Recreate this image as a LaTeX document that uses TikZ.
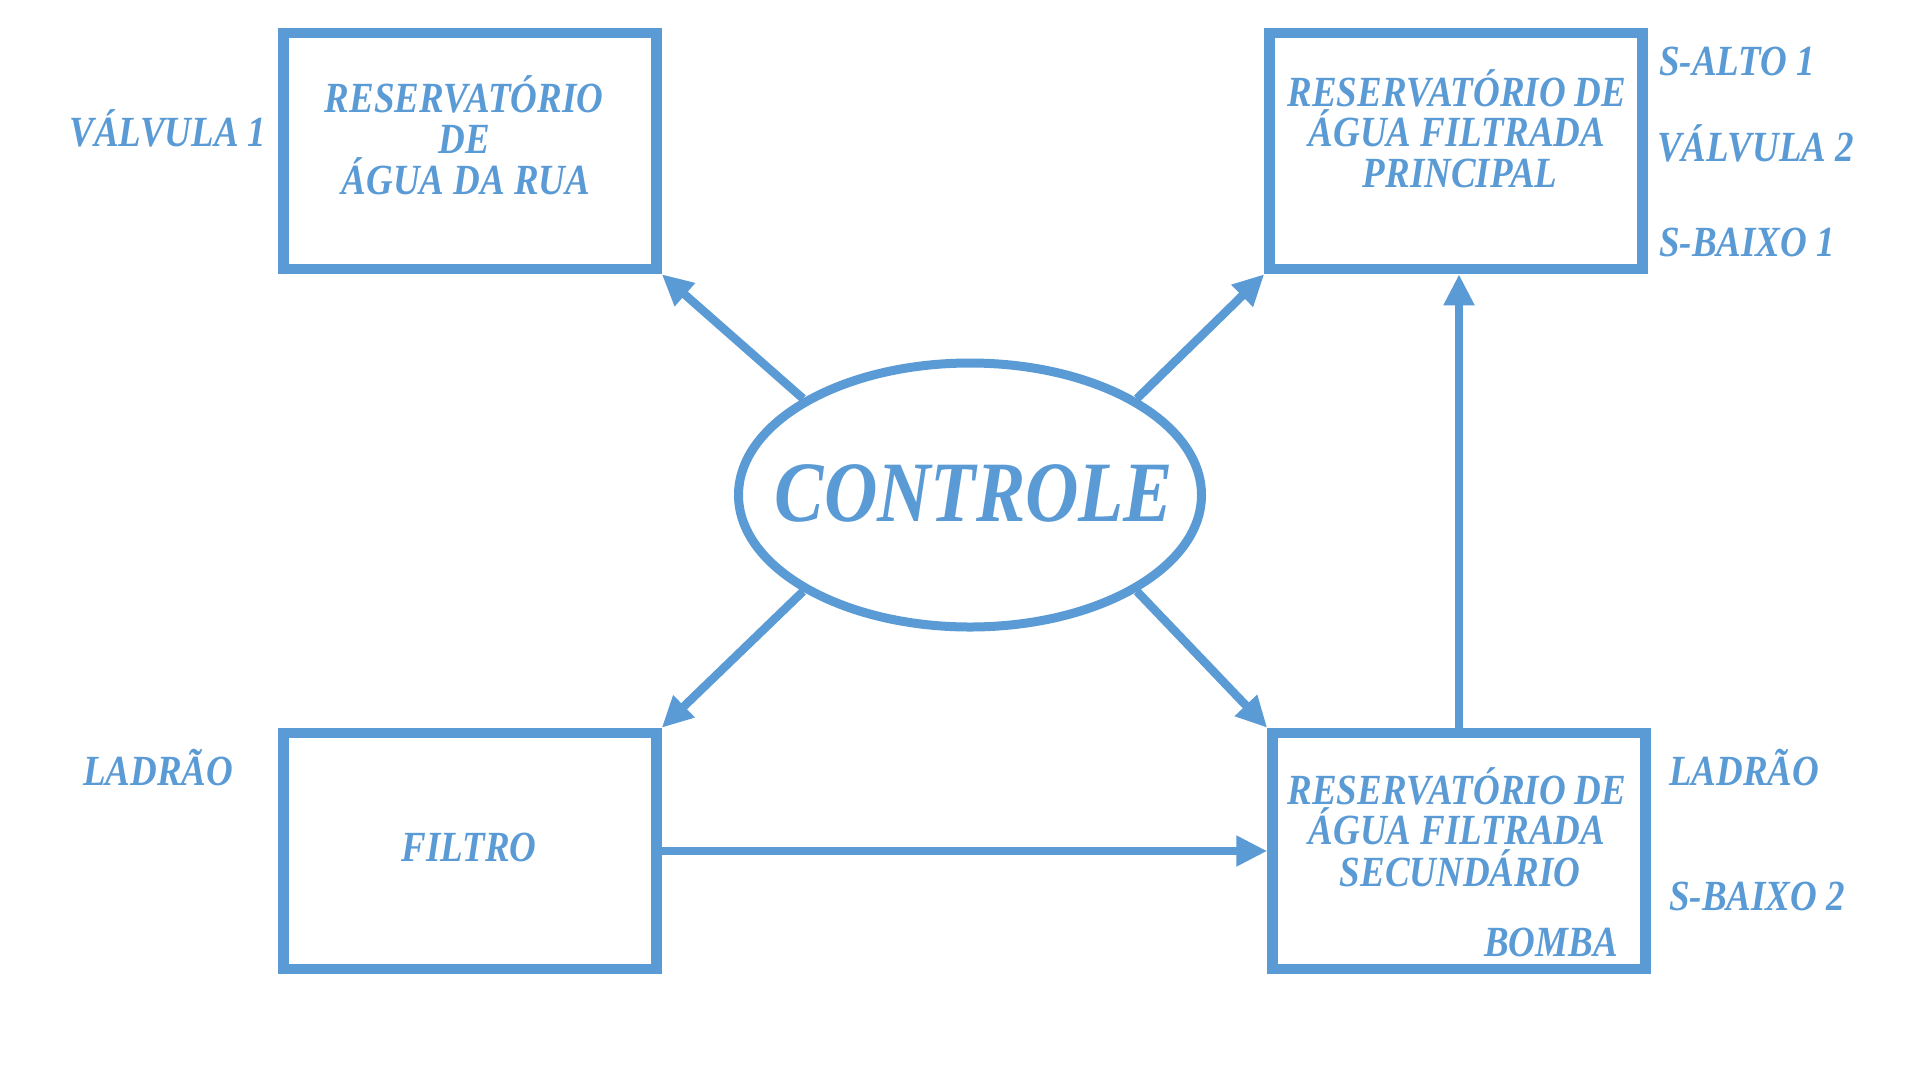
\documentclass[tikz,border=0pt]{standalone}
\usepackage{fontspec}
\setmainfont{Liberation Serif}[FakeStretch=0.86]
\usetikzlibrary{arrows.meta,shapes.geometric}
\definecolor{bl}{HTML}{5B9BD5}
\begin{document}
\begin{tikzpicture}[x=1pt,y=-1pt,
  box/.style={draw=bl, line width=10.5pt, minimum width=373pt, minimum height=236pt, inner sep=0pt},
  txt/.style={text=bl, font=\fontsize{43}{40}\selectfont\bfseries\itshape, inner sep=0pt, anchor=base},
  txtw/.style={txt, anchor=base west},
  arr/.style={draw=bl, line width=8.5pt, -{Triangle[length=31pt,width=29pt]}}]
\useasboundingbox[fill=white] (0,0) rectangle (1920,1080);
% boxes
\node[box] (b1) at (470,151) {};
\node[box] (b2) at (1456,151) {};
\node[box] (b3) at (470,851) {};
\node[box] (b4) at (1459,851) {};
\node[draw=bl, line width=9pt, ellipse, minimum width=463pt, minimum height=264pt, inner sep=0pt] (ctrl) at (970,495) {};
% texts in shapes
\node[txt, font=\fontsize{86}{86}\selectfont\bfseries\itshape] (ct) at (974,521) {CONTROLE};
\node[txt] (b1a) at (464,112) {RESERVATÓRIO};
\node[txt] (b1b) at (464,153) {DE};
\node[txt] (b1c) at (466,194) {ÁGUA DA RUA};
\node[txt] (b2a) at (1457,106) {RESERVATÓRIO DE};
\node[txt] (b2b) at (1457,146) {ÁGUA FILTRADA};
\node[txt] (b2c) at (1460,187) {PRINCIPAL};
\node[txt] (b4a) at (1457,804) {RESERVATÓRIO DE};
\node[txt] (b4b) at (1457,844) {ÁGUA FILTRADA};
\node[txt] (b4c) at (1460,886) {SECUNDÁRIO};
\node[txt] (f) at (469,861) {FILTRO};
\node[txt, anchor=base east] (bomba) at (1618,956) {BOMBA};
% side labels
\node[txt] (v1) at (168,146) {VÁLVULA 1};
\node[txtw] (sa1) at (1659,75) {S-ALTO 1};
\node[txtw] (v2) at (1657,161) {VÁLVULA 2};
\node[txtw] (sb1) at (1659,256) {S-BAIXO 1};
\node[txtw] (l1) at (83,785) {LADRÃO};
\node[txtw] (l2) at (1669,785) {LADRÃO};
\node[txtw] (sb2) at (1669,910) {S-BAIXO 2};
% connectors
\draw[arr] (ctrl.150) -- (b1.south east);
\draw[arr] (ctrl.30) -- (b2.south west);
\draw[arr] (ctrl.210) -- (b3.north east);
\draw[arr] (ctrl.330) -- (b4.north west);
\draw[arr] (b4.north) -- (b4.north |- b2.south);
\draw[arr] (b3.east) -- (b4.west);
\end{tikzpicture}
\end{document}
